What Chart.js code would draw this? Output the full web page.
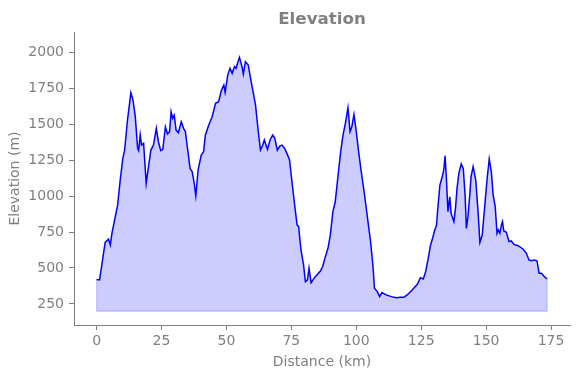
<!DOCTYPE html>
<html>
<head>
<meta charset="utf-8">
<script src="https://cdn.jsdelivr.net/npm/chart.js@4.4.1/dist/chart.umd.min.js"></script>
<style>
html,body{margin:0;padding:0;background:#fff;}
#wrap{width:580px;height:378px;}
</style>
</head>
<body>
<div id="wrap"><canvas id="c" width="580" height="378"></canvas></div>
<script>
// Distance along the route (km)
const distanceKm = [0,1.15,3.3,4.6,5.3,5.9,7.2,8.1,9.1,10.1,10.8,11.9,13.2,14.0,14.9,15.8,16.2,16.8,17.3,18.1,19.1,20.0,20.9,21.9,23.0,23.8,24.7,25.5,26.5,27.3,28.1,28.7,29.3,29.9,30.6,31.5,32.6,33.5,34.2,35.1,36.0,36.8,37.6,38.2,39.1,40.3,41.2,41.9,43.2,44.5,45.8,47.0,48.0,49.0,49.5,50.5,51.4,52.2,53.1,53.7,55.0,56.0,56.5,57.3,58.4,59.4,60.5,61.2,62.2,63.1,64.0,64.6,65.8,66.8,67.8,68.6,69.6,70.5,71.4,72.4,73.3,74.3,75.3,76.5,77.2,77.8,78.7,79.7,80.4,81.2,81.8,82.6,84.2,86.2,87.1,87.9,89.1,90.0,91.0,91.9,93.0,94.0,94.9,95.8,96.8,97.6,98.3,99.1,100.0,100.9,101.9,103.2,104.5,105.5,106.4,107.0,108.1,109.0,109.9,111.5,113.5,115.4,117.0,118.3,119.6,121.5,123.5,124.7,125.8,126.7,127.6,128.6,129.2,130.1,130.9,131.4,132.2,133.1,133.7,134.2,134.7,135.3,136.0,136.5,137.6,138.2,138.8,139.5,140.4,141.2,141.9,142.4,143.0,143.7,144.2,145.0,146.0,146.9,147.6,148.5,149.5,150.4,151.2,152.0,152.7,153.5,154.2,154.7,155.3,155.9,156.3,156.8,157.8,158.8,159.7,160.7,162.3,164.2,165.5,166.5,167.4,168.7,169.6,170.4,171.3,172.2,173.2,173.5];
// Elevation (m)
const elevationM = [420,417,678,700,660,741,856,937,1111,1262,1319,1528,1717,1667,1551,1331,1315,1424,1354,1366,1088,1204,1319,1354,1470,1377,1315,1324,1481,1431,1447,1585,1540,1562,1458,1440,1516,1470,1447,1319,1192,1169,1088,1002,1181,1285,1308,1424,1493,1551,1644,1655,1731,1771,1720,1840,1887,1852,1898,1887,1963,1898,1847,1933,1910,1806,1701,1632,1458,1319,1354,1389,1324,1389,1424,1401,1319,1347,1354,1331,1296,1250,1088,903,799,787,625,521,405,417,498,398,440,479,512,567,637,729,891,960,1146,1308,1424,1505,1613,1447,1481,1567,1447,1308,1169,1007,822,683,521,359,336,301,329,313,301,294,296,296,313,347,387,433,424,474,556,660,694,757,799,914,1076,1134,1181,1280,1123,891,995,880,822,914,1053,1157,1222,1192,1007,775,856,1007,1134,1204,1110,891,678,729,937,1123,1257,1169,1007,926,741,764,741,799,822,757,748,683,688,664,655,632,602,556,551,556,549,463,463,444,428,425];
const baseElevation = 200;
const xTicks = [0,25,50,75,100,125,150,175];
const yTicks = [250,500,750,1000,1250,1500,1750,2000];

const profile = distanceKm.map((d,i)=>({x:d,y:elevationM[i]}));
const n = distanceKm.length;
const edge = [
  {x:distanceKm[0],y:elevationM[0]},
  {x:distanceKm[0],y:baseElevation},
  {x:distanceKm[n-1],y:baseElevation},
  {x:distanceKm[n-1],y:elevationM[n-1]}
];

const GRAY = '#808080';
const FONT = 'DejaVu Sans';

new Chart(document.getElementById('c'), {
  type: 'line',
  data: {
    datasets: [
      {
        data: edge,
        borderColor: 'rgba(0,0,255,0.2)',
        borderWidth: 1.2,
        pointRadius: 0,
        fill: false,
        tension: 0
      },
      {
        data: profile,
        borderColor: '#0000ff',
        borderWidth: 1.5,
        backgroundColor: 'rgba(0,0,255,0.2)',
        pointRadius: 0,
        fill: {value: baseElevation},
        tension: 0
      }
    ]
  },
  options: {
    responsive: false,
    animation: false,
    devicePixelRatio: 1,
    layout: {padding: {left: 0, right: 10, top: 0, bottom: 0}},
    plugins: {
      legend: {display: false},
      tooltip: {enabled: false},
      title: {
        display: true,
        text: 'Elevation',
        fullSize: false,
        color: GRAY,
        font: {family: FONT, size: 16.7, weight: 'bold'},
        padding: {top: 10, bottom: 2}
      }
    },
    scales: {
      x: {
        type: 'linear',
        min: -8.7,
        max: 182.3,
        afterBuildTicks: s => { s.ticks = xTicks.map(v=>({value:v})); },
        afterFit: s => { s.height = 53; },
        border: {display: true, color: GRAY, width: 1},
        grid: {display: true, drawOnChartArea: false, drawTicks: true, tickLength: 5, color: GRAY},
        ticks: {color: GRAY, font: {family: FONT, size: 14}, padding: 3, maxRotation: 0, autoSkip: false, callback: v => String(v)},
        title: {display: true, text: 'Distance (km)', color: GRAY, font: {family: FONT, size: 14}, padding: {top: 0, bottom: 7.6}}
      },
      y: {
        type: 'linear',
        min: 104,
        max: 2139,
        afterBuildTicks: s => { s.ticks = yTicks.map(v=>({value:v})); },
        afterFit: s => { s.width = 74; },
        border: {display: true, color: GRAY, width: 1},
        grid: {display: true, drawOnChartArea: false, drawTicks: true, tickLength: 5, color: GRAY},
        ticks: {color: GRAY, font: {family: FONT, size: 14}, padding: 5, autoSkip: false, callback: v => String(v)},
        title: {display: true, text: 'Elevation (m)', color: GRAY, font: {family: FONT, size: 14}, padding: {top: 6.6, bottom: 0}}
      }
    }
  }
});
</script>
</body>
</html>
